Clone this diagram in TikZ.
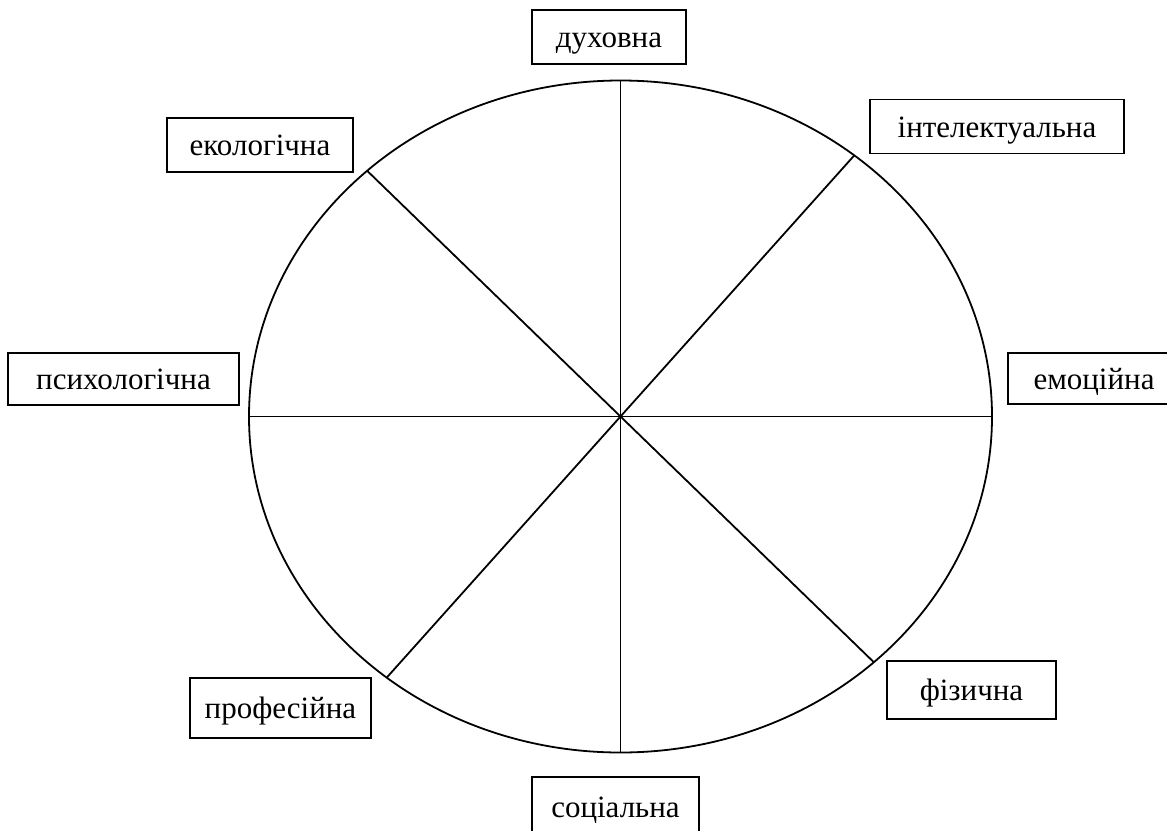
\documentclass[tikz,border=0pt]{standalone}
\usepackage{fontspec}
\setmainfont{Liberation Serif}
\usetikzlibrary{calc}

\begin{document}
\begin{tikzpicture}[
		x=0.5pt,
		y=-0.5pt,
		line width=0.9pt,
		every node/.style={font=\fontsize{15.5}{18}\selectfont},
		sphere/.style={draw,rectangle,inner sep=0pt,text height=10.5pt,text depth=0pt,minimum width=#1,minimum height=27pt}
	]

		\useasboundingbox (0,0) rectangle (1167,830);

		% Wheel
		\coordinate (c) at (620.5,416.5);
		\draw (c) ellipse [x radius=371.5, y radius=336];
		\foreach \a/\n in {270/s1, 309/s2, 0/s3, 47/s4, 90/s5, 129/s6, 180/s7, 227/s8} {
			\coordinate (\n) at ($(c)+(\a:371.5 and 336)$);
			\draw (c) -- (\n);
		}

		% Labels
		\node[sphere=77pt] (dukh) at (609, 37) {духовна};
		\node[sphere=127pt] (intel) at (997, 126.5) {інтелектуальна};
		\node[sphere=86pt, minimum height=25.5pt] (emoc) at (1094, 378.5) {емоційна};
		\node[sphere=84.5pt, minimum height=29pt] (fiz) at (971.5, 690) {фізична};
		\node[sphere=83.5pt, minimum height=30pt] (soc) at (615.5, 807) {соціальна};
		\node[sphere=90.5pt, minimum height=30pt] (prof) at (280.5, 708) {професійна};
		\node[sphere=115.5pt, minimum height=26pt] (psykh) at (123.5, 379) {психологічна};
		\node[sphere=93pt] (ekol) at (260, 145) {екологічна};
	\end{tikzpicture}
\end{document}
